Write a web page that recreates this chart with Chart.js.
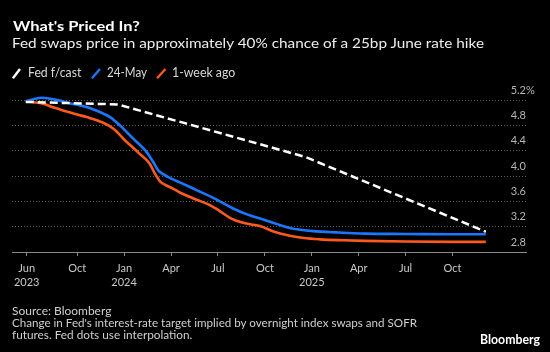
<!DOCTYPE html>
<html><head><meta charset="utf-8">
<script src="https://cdn.jsdelivr.net/npm/chart.js@4.4.1/dist/chart.umd.min.js"></script>
<style>
html,body{margin:0;padding:0;background:#000;}
#wrap{position:relative;width:550px;height:352px;overflow:hidden;background:#000;font-family:Lato,"Noto Sans",sans-serif;}
#c{position:absolute;left:0;top:0;width:550px;height:352px;}
.t{position:absolute;white-space:nowrap;transform-origin:0 0;}
svg{position:absolute;left:0;top:0;}
</style></head><body>
<div id="wrap">
<canvas id="c" width="550" height="352"></canvas>
<div class="t" data-w="126.7" style="left:13.3px;top:19px;font-size:13px;line-height:15.6px;font-weight:700;color:#fff">What's Priced In?</div>
<div class="t" data-w="472" style="left:12.3px;top:36.2px;font-size:13px;line-height:15.6px;color:#ececec">Fed swaps price in approximately 40% chance of a 25bp June rate hike</div>
<svg width="550" height="100">
<line x1="12.9" y1="78.3" x2="20" y2="69" stroke="#ffffff" stroke-width="2.4"/>
<line x1="91.9" y1="78.3" x2="100" y2="69" stroke="#1a78ff" stroke-width="2.4"/>
<line x1="157" y1="78.3" x2="165.5" y2="69" stroke="#ff5a1e" stroke-width="2.4"/>
</svg>
<div class="t" data-w="53.4" style="left:28.3px;top:65px;font-size:12.5px;line-height:15px;color:#d8d8d8">Fed f/cast</div>
<div class="t" data-w="40" style="left:106.7px;top:65px;font-size:12.5px;line-height:15px;color:#d8d8d8">24-May</div>
<div class="t" data-w="63.3" style="left:171.7px;top:65px;font-size:12.5px;line-height:15px;color:#d8d8d8">1-week ago</div>
<div class="t" data-w="99.4" style="left:12.3px;top:304.5px;font-size:11.5px;line-height:12.2px;color:#cfcfcf">Source: Bloomberg</div>
<div class="t" data-w="405" style="left:12.3px;top:316.7px;font-size:11.5px;line-height:12.2px;color:#cfcfcf">Change in Fed's interest-rate target implied by overnight index swaps and SOFR</div>
<div class="t" data-w="180.4" style="left:12.3px;top:328.9px;font-size:11.5px;line-height:12.2px;color:#cfcfcf">futures. Fed dots use interpolation.</div>
<div class="t" data-w="60" style="left:480px;top:331.5px;font-size:12.5px;line-height:15px;font-weight:700;color:#fff">Bloomberg</div>
</div>
<script>
// x values are months since 1 Jan 2023
const fedMonths  = [5.71, 11.6, 23.6, 35.13];
const fedValues  = [5.17, 5.13, 4.30, 3.12];

const mayMonths = [5.71, 6.3, 6.72, 7.3, 7.89, 8.5, 9.17, 9.8, 10.45, 11.1, 11.73, 12.58, 13.43, 13.86, 14.18, 14.5, 14.92, 15.56, 16.7, 17.7, 18.3, 18.97, 19.9, 20.9, 21.8, 22.6, 23.3, 24.1, 25.5, 27.4, 30, 33, 35.13];
const mayValues = [5.18, 5.22, 5.235, 5.22, 5.19, 5.15, 5.115, 5.075, 5.01, 4.93, 4.80, 4.59, 4.38, 4.22, 4.09, 4.03, 3.97, 3.90, 3.77, 3.655, 3.575, 3.487, 3.39, 3.313, 3.24, 3.18, 3.15, 3.13, 3.11, 3.09, 3.085, 3.08, 3.08];

const weekMonths = [5.71, 6.82, 7.5, 8.32, 9.0, 9.6, 10.66, 11.3, 12.15, 13.0, 13.64, 13.96, 14.28, 14.7, 15.13, 15.56, 16.6, 17.48, 18.1, 18.76, 19.6, 20.68, 21.6, 22.6, 23.5, 24.5, 26, 27.4, 30, 33, 35.13];
const weekValues = [5.18, 5.14, 5.08, 5.02, 4.97, 4.93, 4.84, 4.75, 4.54, 4.35, 4.195, 4.04, 3.92, 3.85, 3.80, 3.74, 3.63, 3.54, 3.45, 3.34, 3.26, 3.21, 3.12, 3.057, 3.02, 3.00, 2.985, 2.975, 2.965, 2.96, 2.96];

const xTickMonths = [5.77, 9, 12, 15, 18, 21, 24, 27, 30, 33];
const xTickLabels = [["Jun","2023"], "Oct", ["Jan","2024"], "Apr", "Jul", "Oct", ["Jan","2025"], "Apr", "Jul", "Oct"];
const yTickValues = [2.8, 3.2, 3.6, 4.0, 4.4, 4.8, 5.2];

const pts = (xs, ys) => xs.map((x, i) => ({x: x, y: ys[i]}));

const percentPlugin = {
  id: 'pct',
  afterDraw(chart) {
    const y = chart.scales.y, ctx = chart.ctx;
    const top = yTickValues[yTickValues.length - 1];
    ctx.save();
    ctx.font = '11px Lato';
    ctx.fillStyle = '#b4b4b4';
    ctx.textAlign = 'left';
    ctx.textBaseline = 'middle';
    ctx.fillText('%', chart.chartArea.right, y.getPixelForValue(top) - 10);
    ctx.restore();
  }
};

new Chart(document.getElementById('c'), {
  type: 'line',
  data: {
    datasets: [
      {label: 'Fed f/cast', data: pts(fedMonths, fedValues), borderColor: '#ffffff', borderWidth: 2.5, borderDash: [8, 4], tension: 0, pointRadius: 0, clip: false},
      {label: '24-May', data: pts(mayMonths, mayValues), borderColor: '#1a78ff', borderWidth: 2.6, cubicInterpolationMode: 'monotone', pointRadius: 0, clip: false},
      {label: '1-week ago', data: pts(weekMonths, weekValues), borderColor: '#ff5a1e', borderWidth: 2.6, cubicInterpolationMode: 'monotone', pointRadius: 0, clip: false}
    ]
  },
  options: {
    responsive: false,
    animation: false,
    events: [],
    layout: {padding: {left: 12, right: 24, top: 100, bottom: 60}},
    plugins: {legend: {display: false}, tooltip: {enabled: false}},
    scales: {
      x: {
        type: 'linear', min: 4.83, max: 37.7,
        afterBuildTicks: s => { s.ticks = xTickMonths.map(v => ({value: v})); },
        afterFit: s => { s.height = 40; },
        ticks: {autoSkip: false, maxRotation: 0, color: '#c8c8c8', padding: 5,
          font: {family: 'Lato', size: 11, lineHeight: 1.3},
          callback: (v, i) => xTickLabels[i]},
        grid: {drawOnChartArea: false, drawTicks: true, tickLength: 4, color: '#8a8a8a'},
        border: {display: true, color: '#8a8a8a', width: 1}
      },
      y: {
        type: 'linear', position: 'right', min: 2.8, max: 5.2,
        afterBuildTicks: s => { s.ticks = yTickValues.map(v => ({value: v})); },
        afterFit: s => { s.width = 0; },
        ticks: {mirror: true, padding: 0, labelOffset: -10, color: '#b4b4b4',
          font: {family: 'Lato', size: 11},
          callback: v => Number(v).toFixed(1)},
        grid: {drawTicks: false, lineWidth: 1,
          color: c => (c.tick && Math.abs(c.tick.value - 2.8) < 1e-6) ? 'rgba(0,0,0,0)' : '#5e5e5e'},
        border: {display: false, dash: [1, 2]}
      }
    }
  },
  plugins: [percentPlugin]
});

function fit() {
  document.querySelectorAll('[data-w]').forEach(el => {
    el.style.transform = 'none';
    const w = el.getBoundingClientRect().width;
    if (w > 0) el.style.transform = 'scaleX(' + (parseFloat(el.dataset.w) / w) + ')';
  });
}
fit();
if (document.fonts && document.fonts.ready) document.fonts.ready.then(fit);
</script>
</body></html>
